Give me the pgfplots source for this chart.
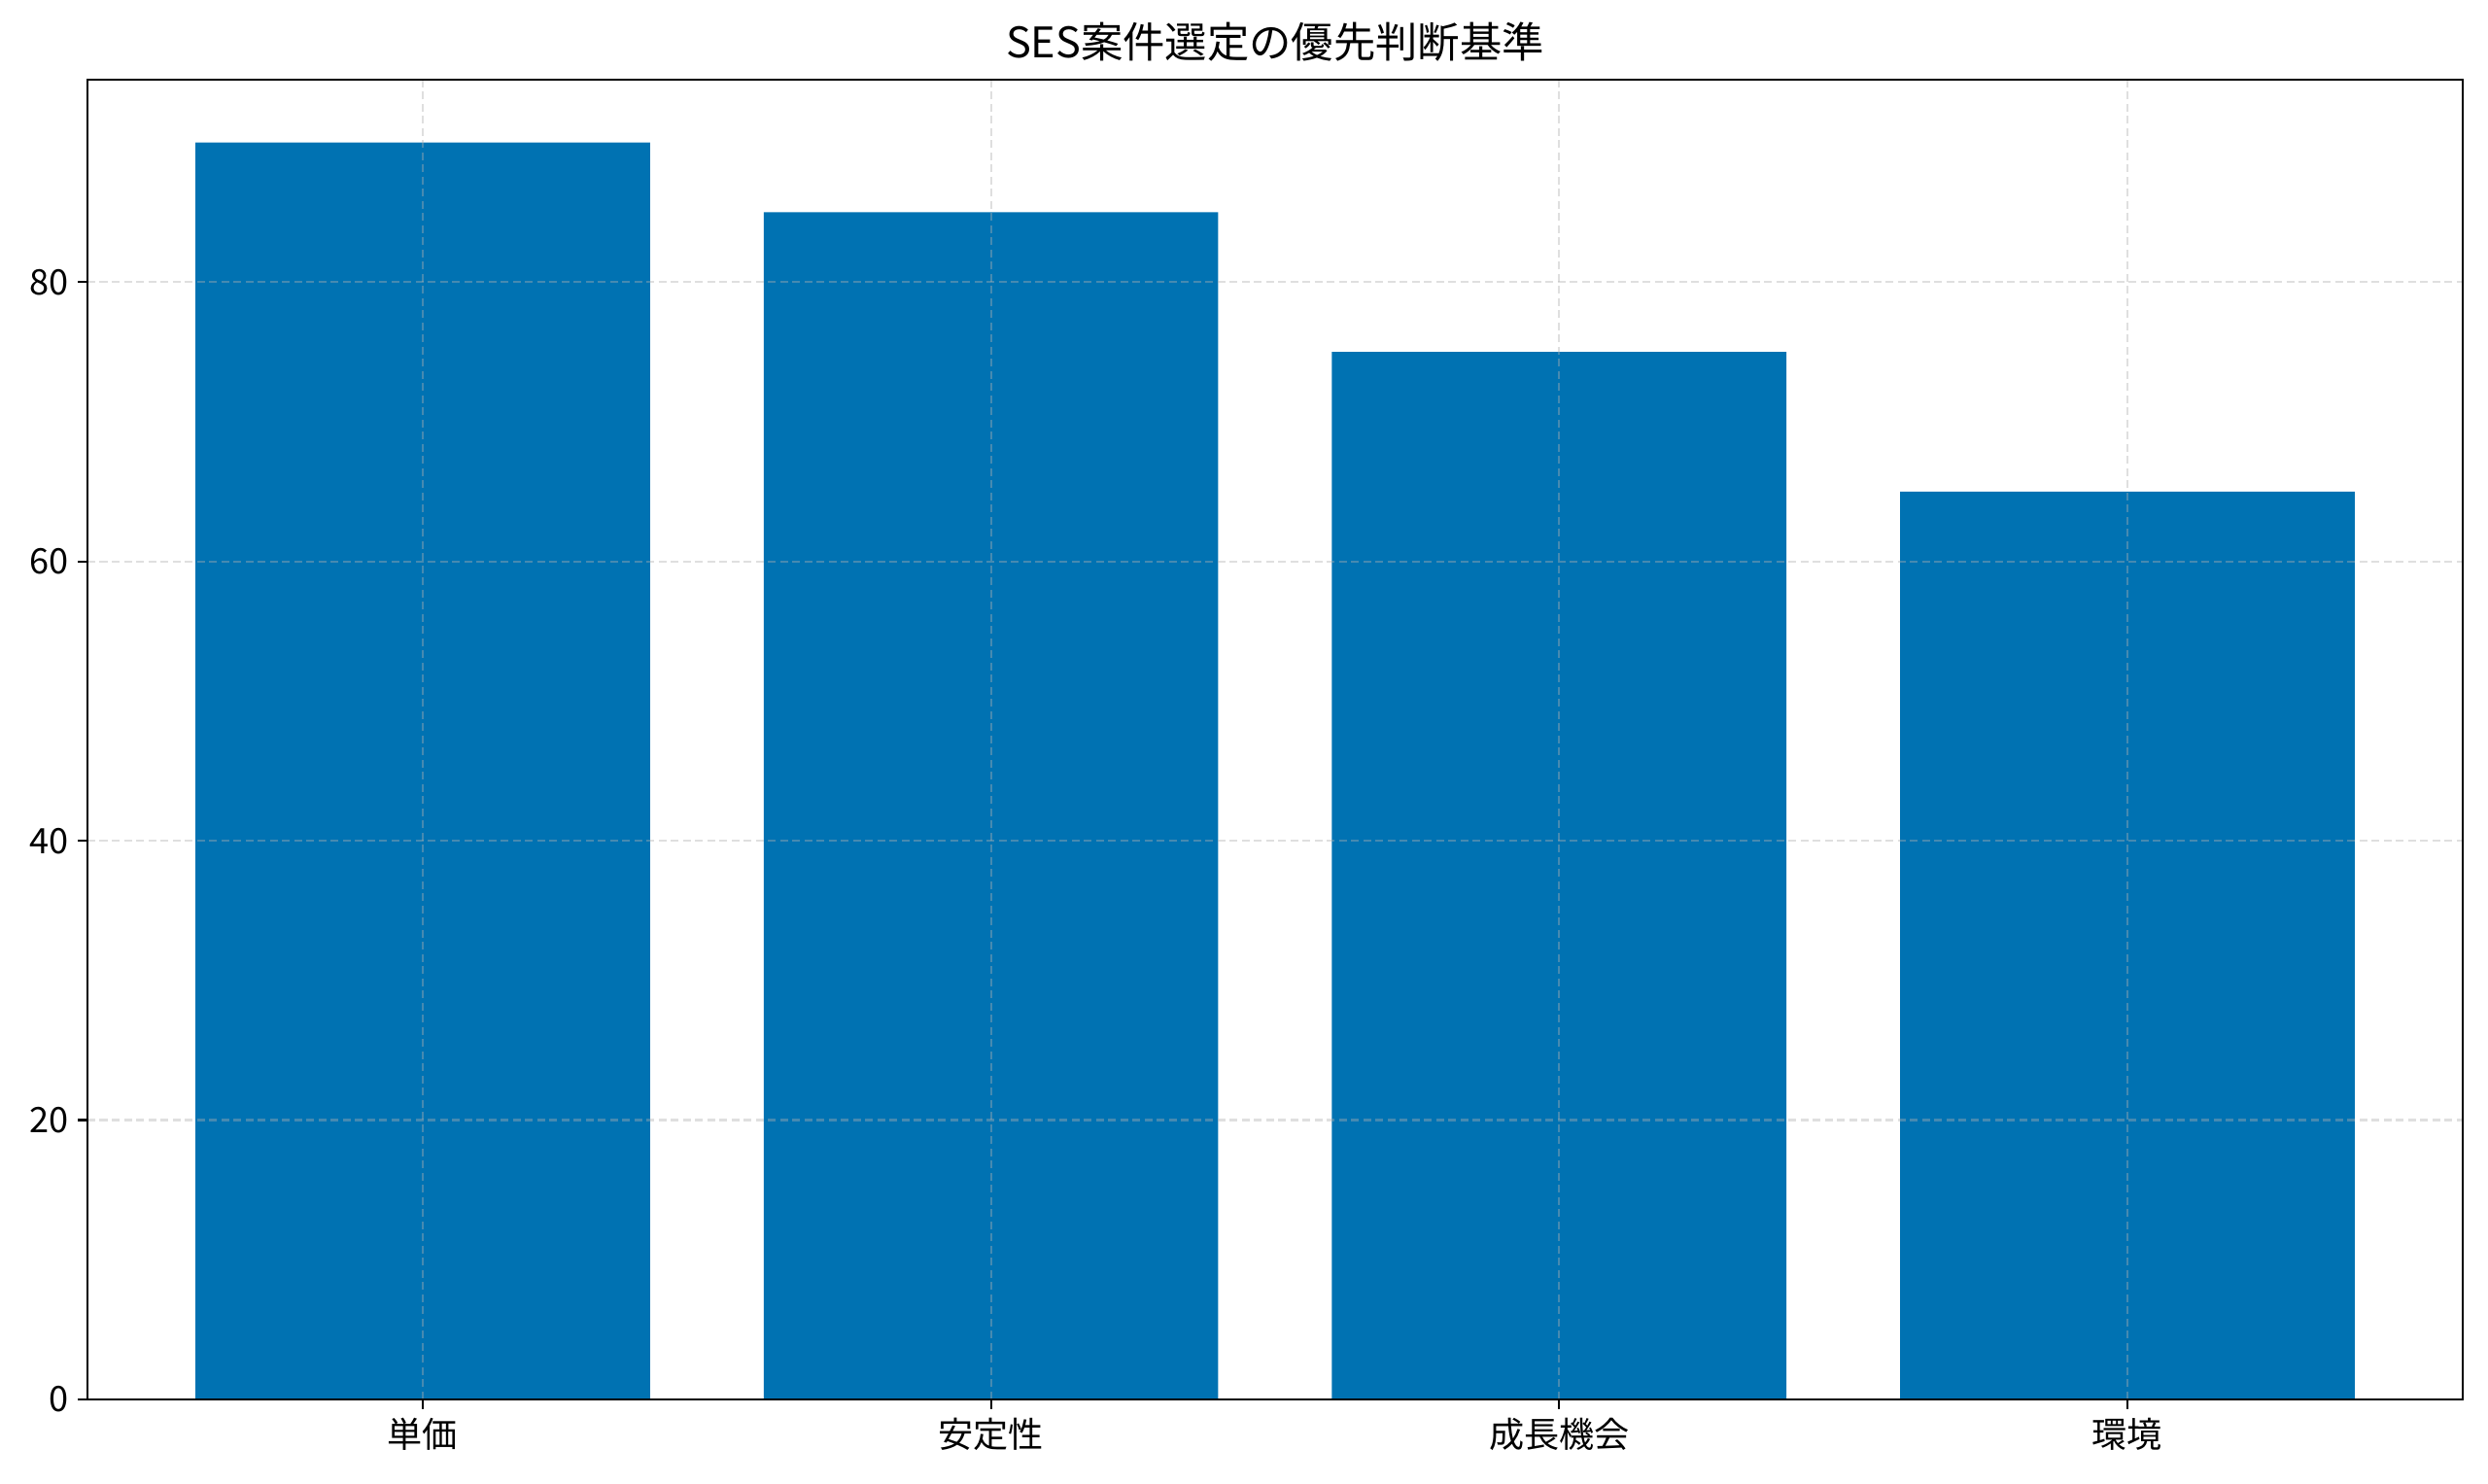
\documentclass[border=0pt]{standalone}
\usepackage{pgfplots}
\pgfplotsset{compat=1.18}
\usepackage{fontspec}
\setmainfont{Noto Sans CJK JP}
\usetikzlibrary{calc}
\definecolor{barblue}{RGB}{0,114,178}
\definecolor{gridgray}{RGB}{176,176,176}

\begin{document}
\begin{tikzpicture}
\begin{axis}[
    scale only axis,
    width=879.8pt, height=488.9pt,
    xmin=-0.59, xmax=3.59,
    ymin=0, ymax=94.5,
    xtick={0,1,2,3},
    xticklabels={単価,安定性,成長機会,環境},
    ytick={0,20,40,60,80},
    /pgf/number format/assume math mode=true,
    ticklabel style={font=\fontsize{13pt}{15pt}\selectfont},
    title={SES案件選定の優先判断基準},
    title style={font=\fontsize{15.6pt}{18pt}\selectfont, yshift=-3pt},
    tick align=outside,
    tick pos=left,
    major tick length=3.5pt,
    tick style={black, line width=0.8pt},
    axis line style={line width=0.8pt},
    xmajorgrids=true,
    ymajorgrids=true,
    grid style={dash pattern=on 3pt off 1.5pt, gridgray, draw opacity=0.4, line width=0.8pt},
    axis on top,
]
\addplot[ybar, bar width=0.8, fill=barblue, draw=none, bar shift=0pt]
    coordinates {(0,90) (1,85) (2,75) (3,65)};
\end{axis}
\pgfresetboundingbox
\path ($(current axis.south west)+(-32.4pt,-31.3pt)$) rectangle ($(current axis.north east)+(9.4pt,29.5pt)$);
\end{tikzpicture}
\end{document}
